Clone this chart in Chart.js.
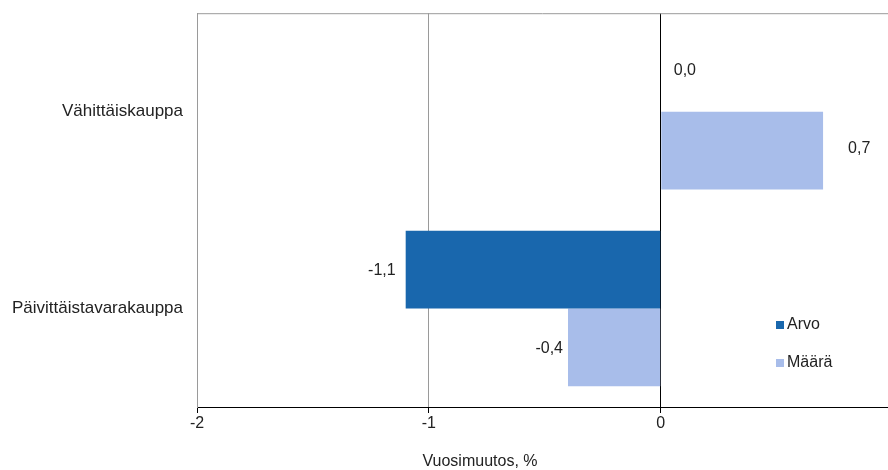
<!DOCTYPE html>
<html lang="fi">
<head>
<meta charset="utf-8">
<script src="https://cdn.jsdelivr.net/npm/chart.js@4"></script>
<style>
  html, body { margin: 0; padding: 0; background: #fff; }
  #wrap { width: 888px; height: 470px; position: relative; overflow: hidden; }
  #inner { position: absolute; left: 0; top: -11px; width: 888px; height: 481px; }
</style>
</head>
<body>
<div id="wrap"><div id="inner"><canvas id="chart"></canvas></div></div>
<script>
// -------------------------------
// DATA
// -------------------------------
const categories = ["Vähittäiskauppa", "Päivittäistavarakauppa"];
const arvo = [0.0, -1.1];
const maara = [0.7, -0.4];
const seriesNames = ["Arvo", "Määrä"];
const xTicks = [-2, -1, 0];
const axisTitle = "Vuosimuutos, %";

// -------------------------------
// STYLE
// -------------------------------
const colors = ["#1967ad", "#a8bdea"];
const FONT = "'Liberation Sans', Arial, sans-serif";
const FSIZE = 16;
const TEXT = "#222";
// gap between bar end and its value label, per dataset / bar
const labelGaps = [[13, 10], [25, 5]];
// canvas is shifted up inside the page by this many px
const OFF = 11;

// -------------------------------
// PLUGIN: labels, legend, frame
// -------------------------------
const extras = {
  id: "extras",
  afterDatasetsDraw(chart) {
    const ctx = chart.ctx;
    const area = chart.chartArea;
    ctx.save();

    // top frame line
    ctx.strokeStyle = "#9a9a9a";
    ctx.lineWidth = 1;
    ctx.beginPath();
    ctx.moveTo(area.left, area.top + 0.5);
    ctx.lineTo(area.right, area.top + 0.5);
    ctx.stroke();

    // value labels
    ctx.font = FSIZE + "px " + FONT;
    ctx.fillStyle = TEXT;
    ctx.textBaseline = "middle";
    chart.data.datasets.forEach((ds, di) => {
      const meta = chart.getDatasetMeta(di);
      meta.data.forEach((bar, i) => {
        const v = ds.data[i];
        const txt = v.toFixed(1).replace(".", ",");
        const gap = labelGaps[di][i];
        if (v < 0) {
          ctx.textAlign = "right";
          ctx.fillText(txt, bar.x - gap, bar.y + 1);
        } else {
          ctx.textAlign = "left";
          ctx.fillText(txt, bar.x + gap, bar.y - 2);
        }
      });
    });

    // legend
    const lx = 776, ly = [325 + OFF, 363 + OFF];
    ctx.textAlign = "left";
    seriesNames.forEach((name, i) => {
      ctx.fillStyle = colors[i];
      ctx.fillRect(lx, ly[i] - 4, 8, 8);
      ctx.fillStyle = TEXT;
      ctx.fillText(name, lx + 11, ly[i]);
    });

    // axis title
    ctx.textAlign = "center";
    ctx.fillText(axisTitle, 480, 462 + OFF);
    ctx.restore();
  }
};

// -------------------------------
// CHART
// -------------------------------
new Chart(document.getElementById("chart"), {
  type: "bar",
  data: {
    labels: categories,
    datasets: [
      { label: seriesNames[0], data: arvo, backgroundColor: colors[0] },
      { label: seriesNames[1], data: maara, backgroundColor: colors[1] }
    ]
  },
  options: {
    indexAxis: "y",
    responsive: true,
    maintainAspectRatio: false,
    animation: false,
    categoryPercentage: 0.79,
    barPercentage: 1.0,
    layout: { padding: 0 },
    plugins: {
      legend: { display: false },
      tooltip: { enabled: false }
    },
    scales: {
      x: {
        min: -2,
        max: 0.98,
        afterBuildTicks: (scale) => {
          scale.ticks = xTicks.map((v) => ({ value: v }));
        },
        afterFit: (scale) => { scale.height = 63; },
        ticks: {
          color: TEXT,
          font: { family: FONT, size: FSIZE },
          padding: 1,
          callback: (v) => String(v)
        },
        grid: {
          color: (c) => (c.tick && c.tick.value === 0 ? "#000" : "#9a9a9a"),
          tickColor: "#000",
          tickLength: 6,
          lineWidth: 1
        },
        border: { display: true, color: "#000", width: 1 }
      },
      y: {
        afterFit: (scale) => { scale.width = 197; },
        ticks: {
          color: TEXT,
          font: { family: FONT, size: 17 },
          padding: 14
        },
        grid: { display: false, drawTicks: false },
        border: { display: true, color: "#9a9a9a", width: 1 }
      }
    }
  },
  plugins: [extras]
});
</script>
</body>
</html>
